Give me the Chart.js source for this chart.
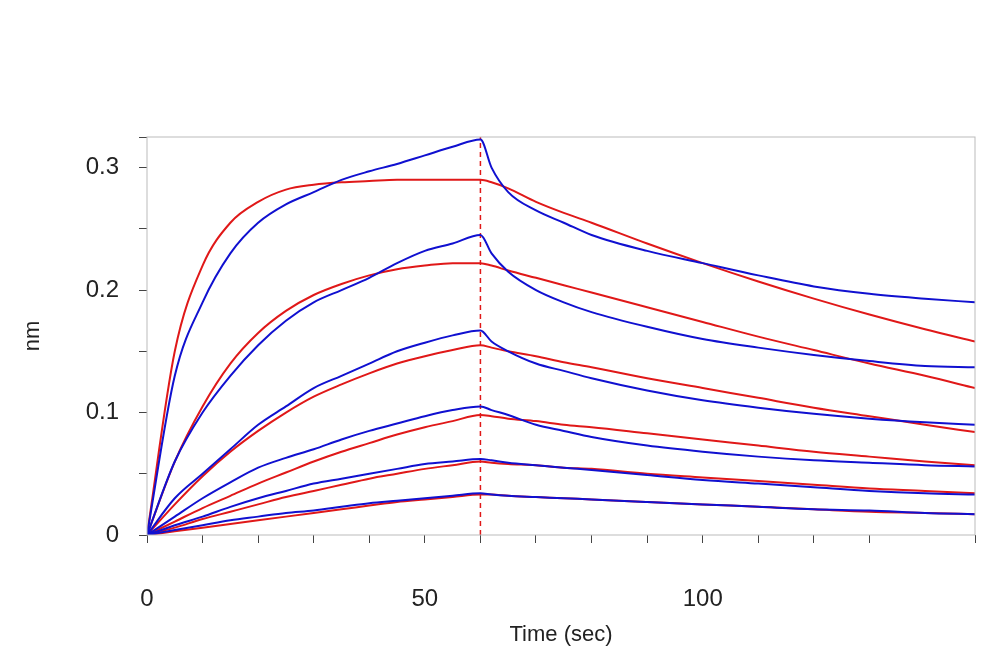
<!DOCTYPE html>
<html><head><meta charset="utf-8">
<script src="https://cdn.jsdelivr.net/npm/chart.js@4/dist/chart.umd.min.js"></script>
<style>html,body{margin:0;padding:0;background:#fff;overflow:hidden}#w{width:1000px;height:670px}</style>
</head><body><div id="w"><canvas id="c"></canvas></div>
<script>
const times=[0,5,10,15,20,25,30,35,40,45,50,55,60,62,65,70,75,80,90,100,110,120,130,140,149];
const blue1=[0,0.13,0.19,0.23,0.255,0.27,0.28,0.29,0.297,0.303,0.31,0.317,0.323,0.30,0.28,0.265,0.255,0.245,0.232,0.222,0.212,0.203,0.197,0.193,0.19];
const red1=[0,0.15,0.22,0.255,0.272,0.282,0.286,0.288,0.289,0.29,0.29,0.29,0.29,0.288,0.283,0.272,0.263,0.255,0.238,0.222,0.207,0.193,0.18,0.168,0.158];
const blue2=[0,0.06,0.10,0.13,0.155,0.175,0.19,0.20,0.21,0.222,0.232,0.238,0.245,0.23,0.215,0.2,0.19,0.182,0.17,0.16,0.153,0.147,0.142,0.138,0.137];
const red2=[0,0.06,0.105,0.14,0.165,0.183,0.196,0.205,0.212,0.217,0.22,0.222,0.222,0.22,0.216,0.21,0.204,0.198,0.186,0.174,0.162,0.151,0.14,0.13,0.12];
const blue3=[0,0.03,0.05,0.07,0.09,0.105,0.12,0.13,0.14,0.15,0.157,0.163,0.167,0.158,0.15,0.14,0.134,0.128,0.118,0.11,0.104,0.099,0.095,0.092,0.09];
const red3=[0,0.025,0.048,0.068,0.085,0.1,0.113,0.123,0.132,0.14,0.146,0.151,0.155,0.153,0.15,0.146,0.141,0.137,0.128,0.12,0.112,0.104,0.097,0.09,0.084];
const blue4=[0,0.015,0.03,0.043,0.055,0.063,0.07,0.078,0.085,0.091,0.097,0.102,0.105,0.102,0.098,0.09,0.085,0.08,0.073,0.068,0.064,0.061,0.059,0.057,0.056];
const red4=[0,0.011,0.022,0.032,0.042,0.051,0.06,0.068,0.075,0.082,0.088,0.093,0.098,0.097,0.095,0.093,0.09,0.088,0.083,0.078,0.073,0.068,0.064,0.06,0.057];
const blue5=[0,0.008,0.015,0.023,0.03,0.036,0.042,0.046,0.05,0.054,0.058,0.06,0.062,0.061,0.059,0.057,0.055,0.053,0.049,0.045,0.042,0.039,0.036,0.034,0.033];
const red5=[0,0.006,0.013,0.019,0.025,0.031,0.036,0.041,0.046,0.05,0.054,0.057,0.06,0.059,0.058,0.057,0.055,0.054,0.05,0.047,0.044,0.041,0.038,0.036,0.034];
const blue6=[0,0.004,0.008,0.012,0.015,0.018,0.02,0.023,0.026,0.028,0.03,0.032,0.034,0.033,0.032,0.031,0.03,0.029,0.027,0.025,0.023,0.021,0.02,0.018,0.017];
const red6=[0,0.003,0.006,0.009,0.012,0.015,0.018,0.021,0.024,0.027,0.029,0.031,0.033,0.033,0.032,0.031,0.03,0.029,0.027,0.025,0.023,0.021,0.019,0.018,0.017];
const injectionTime=60;

const pts=v=>v.map((y,i)=>({x:times[i],y}));
const ds=[];
[blue1,blue2,blue3,blue4,blue5,blue6].forEach(v=>ds.push({data:pts(v),borderColor:'#1010d0',borderWidth:2,pointRadius:0,cubicInterpolationMode:'monotone'}));
[red1,red2,red3,red4,red5,red6].forEach(v=>ds.push({data:pts(v),borderColor:'#e01818',borderWidth:2,pointRadius:0,cubicInterpolationMode:'monotone'}));
ds.push({data:[{x:injectionTime,y:0},{x:injectionTime,y:0.325}],borderColor:'#e01818',borderWidth:1.5,borderDash:[5,4],pointRadius:0});

const boxPlugin={id:'box',afterDraw(c){const a=c.chartArea,x=c.ctx;x.save();x.strokeStyle='#bbb';x.lineWidth=1;x.strokeRect(a.left,a.top,a.right-a.left,a.bottom-a.top);x.restore();}};
const font={family:'"Liberation Sans", Arial, sans-serif',size:24};
new Chart(document.getElementById('c'),{type:'line',data:{datasets:ds},plugins:[boxPlugin],
options:{responsive:true,maintainAspectRatio:false,animation:false,
layout:{padding:{top:137,right:25,left:16,bottom:0}},
plugins:{legend:{display:false},tooltip:{enabled:false}},
scales:{
x:{type:'linear',min:0,max:149,afterFit(s){s.height=135;s.paddingLeft=0;s.paddingRight=0;},
 ticks:{stepSize:10,autoSkip:false,font,color:'#222',padding:42,maxRotation:0,callback:v=>v%50===0?String(v):''},
 grid:{drawOnChartArea:false,tickLength:8,color:'#444'},border:{display:false},
 title:{display:true,text:'Time (sec)',font:{...font,size:22},color:'#222',padding:{top:0,bottom:22}}},
y:{min:0,max:0.325,afterFit(s){s.width=131;s.paddingTop=0;s.paddingBottom=0;},
 ticks:{stepSize:0.05,autoSkip:false,font,color:'#222',padding:20,callback:v=>{const r=Math.round(v*100);return r%10===0?(r===0?'0':(r/100).toFixed(1)):''}},
 grid:{drawOnChartArea:false,tickLength:8,color:'#444'},border:{display:false},
 title:{display:true,text:'nm',font:{...font,size:22},color:'#222'}}
}}});
</script></body></html>
